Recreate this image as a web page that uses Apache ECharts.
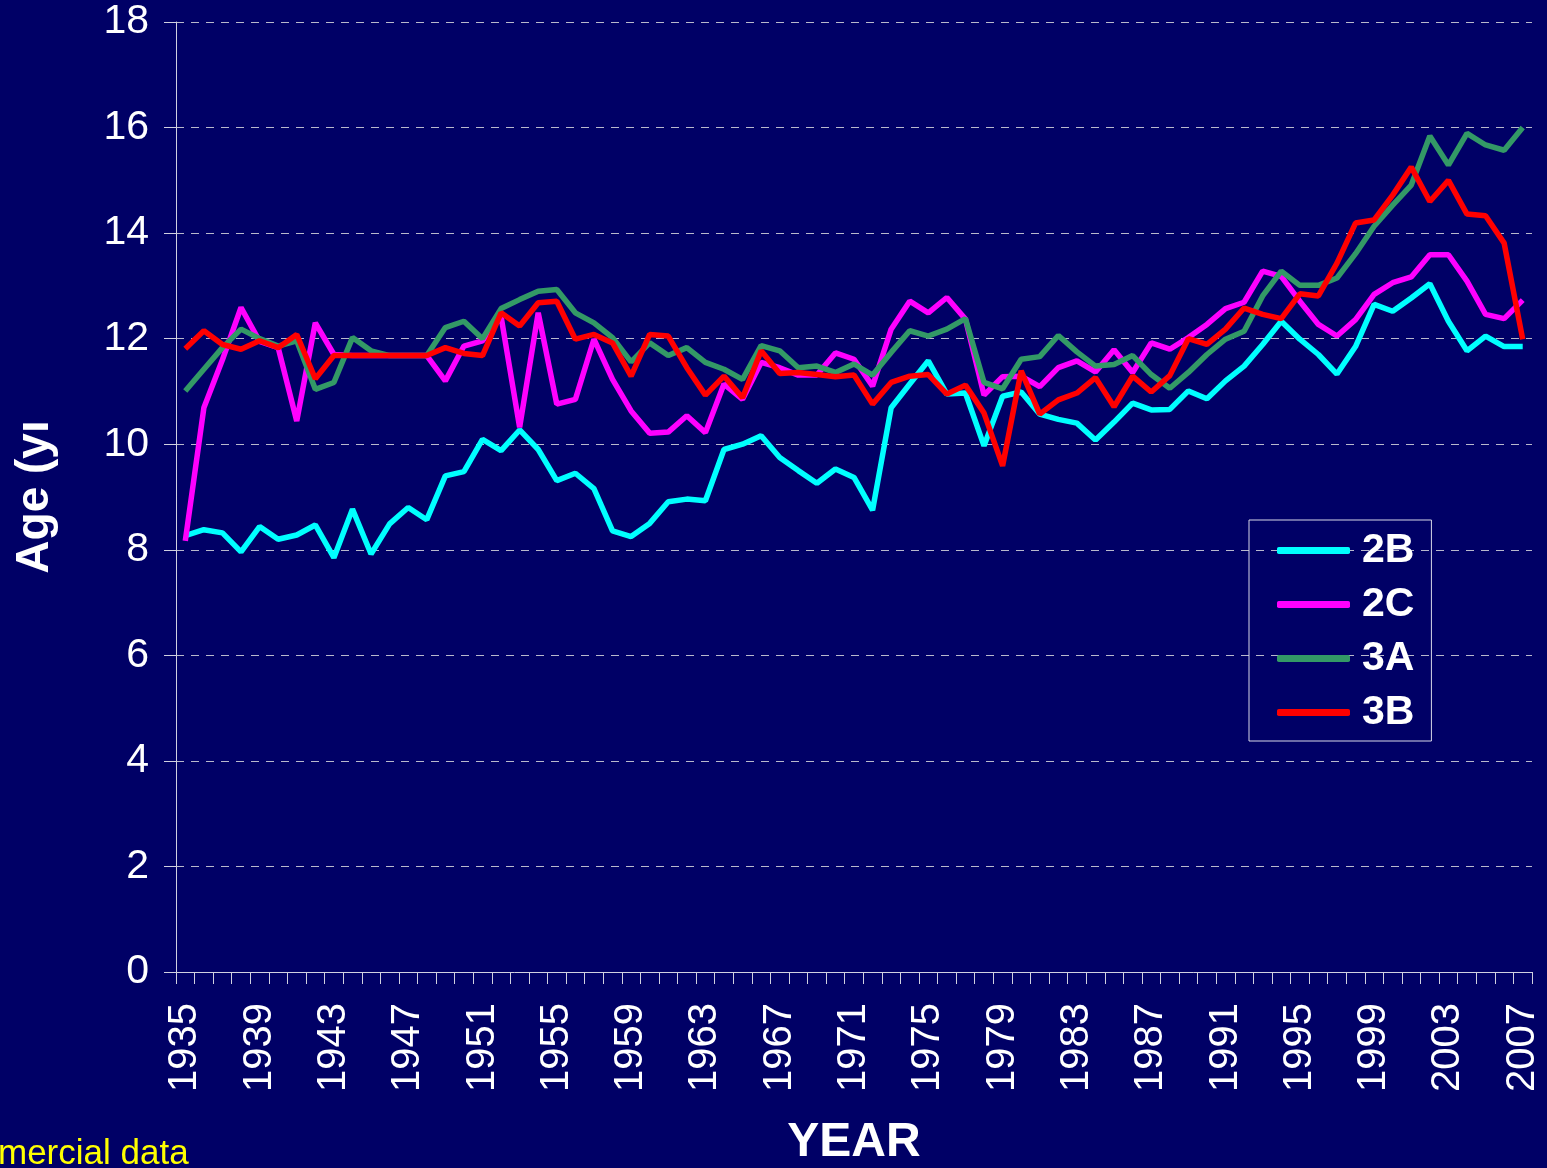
<!DOCTYPE html>
<html>
<head>
<meta charset="utf-8">
<title>Age by year</title>
<script src="https://cdn.jsdelivr.net/npm/echarts@6/dist/echarts.min.js"></script>
<style>
  html, body { margin: 0; padding: 0; background: #000066; }
  #chart { width: 1547px; height: 1168px; }
</style>
</head>
<body>
<div id="chart"></div>
<script>
// years on the x axis
const years = [
  '1935', '1936', '1937', '1938', '1939', '1940', '1941', '1942', '1943', '1944',
  '1945', '1946', '1947', '1948', '1949', '1950', '1951', '1952', '1953', '1954',
  '1955', '1956', '1957', '1958', '1959', '1960', '1961', '1962', '1963', '1964',
  '1965', '1966', '1967', '1968', '1969', '1970', '1971', '1972', '1973', '1974',
  '1975', '1976', '1977', '1978', '1979', '1980', '1981', '1982', '1983', '1984',
  '1985', '1986', '1987', '1988', '1989', '1990', '1991', '1992', '1993', '1994',
  '1995', '1996', '1997', '1998', '1999', '2000', '2001', '2002', '2003', '2004',
  '2005', '2006', '2007'
];

// ages (yr)
const age2B = [
  8.27, 8.38, 8.32, 7.96, 8.44, 8.2, 8.28, 8.47, 7.85, 8.77,
  7.92, 8.49, 8.8, 8.57, 9.4, 9.48, 10.09, 9.88, 10.27, 9.9,
  9.31, 9.45, 9.16, 8.36, 8.25, 8.5, 8.91, 8.96, 8.93, 9.9,
  10.0, 10.16, 9.75, 9.5, 9.26, 9.53, 9.37, 8.75, 10.69, 11.14,
  11.58, 10.95, 10.97, 9.97, 10.91, 10.99, 10.57, 10.47, 10.4, 10.08,
  10.42, 10.78, 10.65, 10.66, 11.01, 10.86, 11.2, 11.48, 11.89, 12.33,
  11.99, 11.7, 11.33, 11.85, 12.65, 12.52, 12.77, 13.04, 12.33, 11.77,
  12.05, 11.85, 11.85
];
const age2C = [
  8.17, 10.69, 11.6, 12.59, 11.95, 11.83, 10.44, 12.3, 11.7, 11.68,
  11.68, 11.68, 11.68, 11.68, 11.2, 11.86, 11.96, 12.42, 10.32, 12.49,
  10.76, 10.85, 11.99, 11.23, 10.63, 10.21, 10.23, 10.54, 10.22, 11.14,
  10.85, 11.55, 11.45, 11.31, 11.31, 11.73, 11.61, 11.1, 12.18, 12.71,
  12.49, 12.78, 12.37, 10.93, 11.28, 11.29, 11.09, 11.45, 11.58, 11.37,
  11.79, 11.36, 11.92, 11.8, 12.02, 12.27, 12.57, 12.69, 13.28, 13.18,
  12.71, 12.27, 12.05, 12.36, 12.84, 13.06, 13.17, 13.59, 13.59, 13.09,
  12.46, 12.38, 12.73
];
const age3A = [
  11.01, 11.42, 11.83, 12.18, 12.0, 11.86, 11.96, 11.04, 11.17, 12.02,
  11.77, 11.68, 11.68, 11.68, 12.21, 12.33, 12.0, 12.57, 12.74, 12.9,
  12.93, 12.49, 12.3, 12.02, 11.56, 11.92, 11.68, 11.83, 11.55, 11.42,
  11.23, 11.87, 11.77, 11.45, 11.48, 11.36, 11.52, 11.31, 11.74, 12.15,
  12.05, 12.18, 12.38, 11.17, 11.05, 11.61, 11.66, 12.06, 11.75, 11.48,
  11.51, 11.68, 11.32, 11.06, 11.36, 11.7, 11.99, 12.14, 12.81, 13.28,
  13.01, 13.01, 13.15, 13.61, 14.13, 14.53, 14.91, 15.84, 15.29, 15.89,
  15.67, 15.57, 16.0
];
const age3B = [
  11.81, 12.15, 11.89, 11.8, 11.96, 11.83, 12.08, 11.24, 11.68, 11.68,
  11.68, 11.68, 11.68, 11.68, 11.83, 11.72, 11.68, 12.49, 12.24, 12.68,
  12.71, 11.99, 12.08, 11.92, 11.29, 12.08, 12.05, 11.45, 10.93, 11.29,
  10.88, 11.77, 11.34, 11.36, 11.32, 11.28, 11.31, 10.76, 11.17, 11.29,
  11.32, 10.95, 11.12, 10.59, 9.59, 11.39, 10.57, 10.84, 10.97, 11.26,
  10.71, 11.29, 10.99, 11.3, 12.0, 11.89, 12.18, 12.58, 12.46, 12.38,
  12.85, 12.81, 13.43, 14.19, 14.25, 14.72, 15.25, 14.6, 15.0, 14.36,
  14.33, 13.81, 11.99
];

const font = "'Liberation Sans', Arial, sans-serif";

const chart = echarts.init(document.getElementById('chart'));

const makeLine = (name, data, color) => ({
  name,
  type: 'line',
  data,
  symbol: 'none',
  lineStyle: { color, width: 5.5 },
  itemStyle: { color },
});

const option = {
  backgroundColor: '#000066',
  animation: false,
  grid: {
    left: 176,
    right: 15,
    top: 22,
    bottom: 196,
    outerBoundsMode: 'none',
  },
  legend: {
    orient: 'vertical',
    left: 1249,
    top: 520,
    padding: [10, 17, 8, 28],
    borderColor: '#d8d8e8',
    borderWidth: 1,
    icon: 'roundRect',
    itemWidth: 73,
    itemHeight: 7,
    itemGap: 13,
    textStyle: {
      color: '#ffffff',
      fontFamily: font,
      fontWeight: 'bold',
      fontSize: 41,
      lineHeight: 41,
      padding: [0, 0, 0, 7],
    },
  },
  xAxis: {
    type: 'category',
    data: years,
    boundaryGap: true,
    name: 'YEAR',
    nameLocation: 'middle',
    nameGap: 147,
    nameTextStyle: {
      color: '#ffffff',
      fontFamily: font,
      fontWeight: 'bold',
      fontSize: 48,
    },
    axisLine: { lineStyle: { color: '#d0d0e0', width: 1 } },
    axisTick: {
      show: true,
      interval: 0,
      length: 12,
      lineStyle: { color: '#d0d0e0' },
    },
    axisLabel: {
      interval: 3,
      rotate: 90,
      margin: 31,
      color: '#ffffff',
      fontFamily: font,
      fontSize: 40,
    },
    splitLine: { show: false },
  },
  yAxis: {
    type: 'value',
    min: 0,
    max: 18,
    interval: 2,
    name: 'Age (yı',
    nameLocation: 'middle',
    nameRotate: 90,
    nameGap: 118,
    nameTextStyle: {
      color: '#ffffff',
      fontFamily: font,
      fontWeight: 'bold',
      fontSize: 46,
    },
    axisLine: { show: true, lineStyle: { color: '#d0d0e0', width: 1 } },
    axisTick: { show: true, length: 12, lineStyle: { color: '#d0d0e0' } },
    axisLabel: {
      margin: 27,
      color: '#ffffff',
      fontFamily: font,
      fontSize: 41,
    },
    splitLine: {
      lineStyle: { color: '#b8b8cc', width: 1, type: [8, 7] },
    },
  },
  graphic: [
    {
      type: 'text',
      left: -2,
      top: 1137,
      style: {
        text: 'mercial data',
        fill: '#ffff00',
        font: '35px ' + font,
      },
    },
  ],
  series: [
    makeLine('2B', age2B, '#00ffff'),
    makeLine('2C', age2C, '#ff00ff'),
    makeLine('3A', age3A, '#339966'),
    makeLine('3B', age3B, '#ff0000'),
  ],
};

chart.setOption(option);
</script>
</body>
</html>
